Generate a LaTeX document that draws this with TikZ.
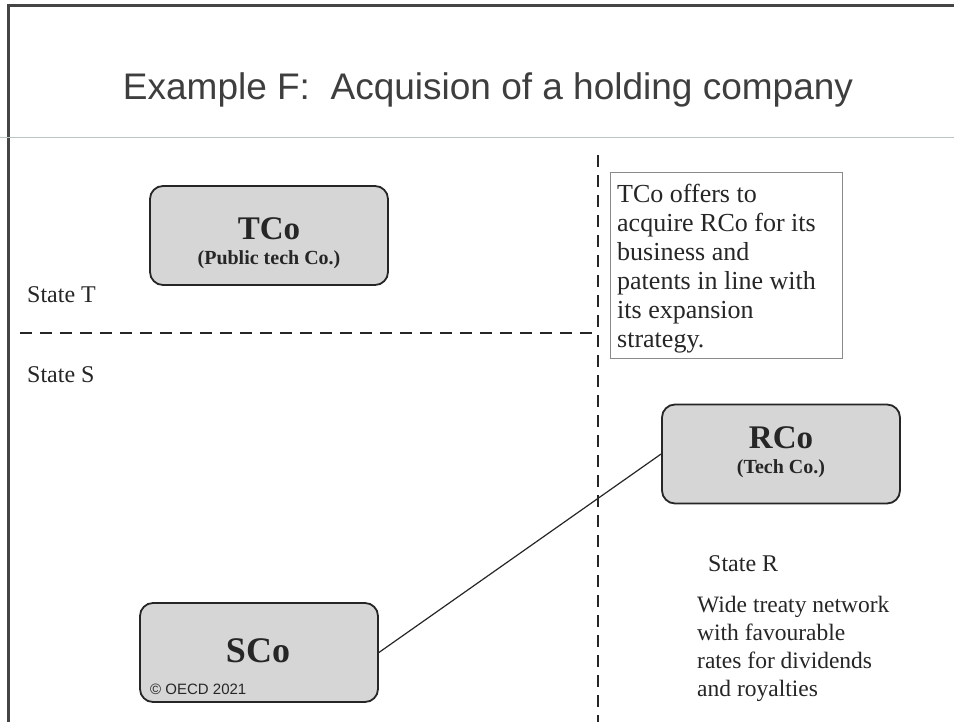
\documentclass[tikz,border=0pt]{standalone}
\usepackage{fontspec}
\setmainfont{Liberation Serif}
\newfontfamily\headfont{Liberation Sans}
\definecolor{ink}{HTML}{262626}
\definecolor{framegray}{HTML}{454545}
\definecolor{boxfill}{HTML}{D6D6D6}
\definecolor{rulegray}{HTML}{B9C6C3}
\definecolor{notegray}{HTML}{8A8A8A}
\begin{document}
\begin{tikzpicture}[x=1pt,y=-1pt,
  company/.style={draw=ink, line width=1.8pt, fill=boxfill, rounded corners=13pt,
    minimum width=238pt, minimum height=99pt, inner sep=0pt},
  border/.style={draw=ink, line width=2.6pt, dash pattern=on 12pt off 8pt},
  plain/.style={inner sep=0pt, text=ink},
  bigname/.style={plain, anchor=base, font=\bfseries\fontsize{33}{33}\selectfont},
  subname/.style={plain, anchor=base, font=\bfseries\fontsize{20}{20}\selectfont},
  statelbl/.style={plain, anchor=base west, font=\fontsize{24}{24}\selectfont},
  bodytext/.style={plain, anchor=north west, align=left}
]
\useasboundingbox (0,0) rectangle (954,722);
\fill[white] (0,0) rectangle (954,722);

% page frame (top and left edges) and title rule
\coordinate (ftl) at (8,6);
\coordinate (ftr) at (954,6);
\coordinate (fbl) at (8,722);
\draw[framegray, line width=3pt] (fbl) -- (ftl) -- (ftr);
\coordinate (rl) at (0,138);
\coordinate (rr) at (954,138);
\draw[rulegray, line width=1pt] (rl) -- (rr);

% title
\node[plain, text=framegray!90!black, anchor=base, font=\headfont\fontsize{37}{37}\selectfont]
  (title) at (488,100) {Example F:\ \ Acquision of a holding company};

% state borders
\coordinate (vtop) at (598,155);
\coordinate (vbot) at (598,722);
\coordinate (hleft) at (20,333);
\coordinate (hright) at (598,333);
\draw[border] (vtop) -- (vbot);
\draw[border] (hleft) -- (hright);

% state labels
\node[statelbl] (stT) at (27,303) {State T};
\node[statelbl] (stS) at (27,382) {State S};
\node[statelbl] (stR) at (708,571) {State R};

% companies
\node[company] (tco) at (269,235.5) {};
\node[bigname] (tconame) at (269,240) {TCo};
\node[subname] (tcosub) at (269,265) {(Public tech Co.)};

\node[company] (rco) at (781,454) {};
\node[bigname] (rconame) at (781,448) {RCo};
\node[subname] (rcosub) at (781,473) {(Tech Co.)};

\node[company] (sco) at (259,652.5) {};
\node[bigname, font=\bfseries\fontsize{36}{36}\selectfont] (sconame) at (258,662) {SCo};
\node[plain, anchor=base west, font=\headfont\fontsize{15}{15}\selectfont]
  (copy) at (150,694) {© OECD 2021};

% ownership link
\draw[ink, line width=1.2pt] (sco.east) -- (rco.west);

% note box
\node[draw=notegray, line width=0.9pt, minimum width=232pt, minimum height=186pt,
  inner sep=0pt, anchor=north west] (note) at (610,172) {};
\node[bodytext, font=\fontsize{26}{29}\selectfont] (notetext) at (617,184)
  {TCo offers to\\acquire RCo for its\\business and\\patents in line with\\its expansion\\strategy.};

% State R remarks
\node[bodytext, font=\fontsize{23.5}{28}\selectfont] (rtext) at (697,596)
  {Wide treaty network\\with favourable\\rates for dividends\\and royalties};
\end{tikzpicture}
\end{document}
